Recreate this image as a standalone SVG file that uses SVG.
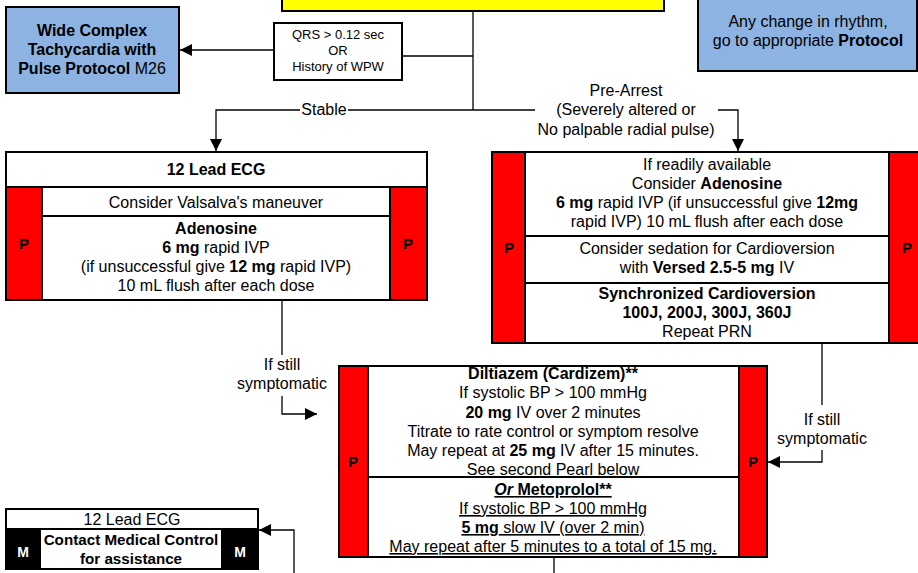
<svg xmlns="http://www.w3.org/2000/svg" width="918" height="573" viewBox="0 0 918 573">
  <style>
    text { font-family: "Liberation Sans", Arial, sans-serif; font-size: 16px; fill: #000; text-anchor: middle; }
    .b { font-weight: bold; }
    .sm { font-size: 13px; }
    .mc { font-size: 15.2px; }
    .u { text-decoration: underline; }
    .box { stroke: #000; stroke-width: 2; }
    .white { fill: #fff; }
    .blue { fill: #8DB3E2; }
    .yellow { fill: #FFFF00; }
    .red { fill: #FF0000; }
    .dark { fill: #000; }
    .div { stroke: #000; stroke-width: 2; fill: none; }
    .wire { stroke: #000; stroke-width: 1.3; fill: none; }
    .mtext { fill: #fff; font-weight: bold; font-size: 14px; }
    .ptext { font-weight: bold; font-size: 15px; }
  </style>
  <defs>
    <marker id="arrow" markerUnits="userSpaceOnUse" markerWidth="12" markerHeight="12" viewBox="0 0 12 12" refX="12" refY="6" orient="auto">
      <path d="M0,0 L12,6 L0,12 z" fill="#000"/>
    </marker>
  </defs>

  <rect width="918" height="573" fill="#fff"/>

  <!-- connectors -->
  <g id="connectors">
    <path class="wire" d="M473,11 V110"/>
    <path class="wire" d="M402,56 H473"/>
    <path class="wire" d="M274,50 H180" marker-end="url(#arrow)"/>
    <path class="wire" d="M473,110 H348"/>
    <path class="wire" d="M300,110 H216 V151" marker-end="url(#arrow)"/>
    <path class="wire" d="M473,110 H535"/>
    <path class="wire" d="M718,110 H738 V151" marker-end="url(#arrow)"/>
    <path class="wire" d="M282,300 V355"/>
    <path class="wire" d="M282,396 V414 H317" marker-end="url(#arrow)"/>
    <path class="wire" d="M822,344 V405"/>
    <path class="wire" d="M822,450 V462 H768" marker-end="url(#arrow)"/>
    <path class="wire" d="M554,557 V573"/>
    <path class="wire" d="M294,573 V530 H259" marker-end="url(#arrow)"/>
    <text x="324" y="115">Stable</text>
    <text x="626" y="96">Pre-Arrest</text>
    <text x="626" y="115">(Severely altered or</text>
    <text x="626" y="135">No palpable radial pulse)</text>
    <text x="282" y="370">If still</text>
    <text x="282" y="389">symptomatic</text>
    <text x="822" y="425">If still</text>
    <text x="822" y="444">symptomatic</text>
  </g>

  <!-- top decision box -->
  <g id="top-box">
    <rect class="box yellow" x="282" y="-10" width="382" height="21"/>
  </g>

  <g id="wide-complex">
    <rect class="box blue" x="6" y="7" width="173" height="86"/>
    <text class="b" x="92" y="36">Wide Complex</text>
    <text class="b" x="92" y="55">Tachycardia with</text>
    <text x="92" y="74"><tspan class="b">Pulse Protocol</tspan> M26</text>
  </g>

  <g id="qrs">
    <rect class="box white" x="274" y="23" width="128" height="57"/>
    <text class="sm" x="338" y="39">QRS &gt; 0.12 sec</text>
    <text class="sm" x="338" y="55">OR</text>
    <text class="sm" x="338" y="71">History of WPW</text>
  </g>

  <g id="rhythm-note">
    <rect class="box blue" x="698" y="-5" width="219" height="76"/>
    <text x="808" y="27">Any change in rhythm,</text>
    <text x="808" y="46">go to appropriate <tspan class="b">Protocol</tspan></text>
  </g>

  <!-- stable branch -->
  <g id="stable-box">
    <rect class="box white" x="6" y="152" width="421" height="148"/>
    <path class="div" d="M6,187 H427"/>
    <rect class="box red" x="6" y="187" width="36" height="113"/>
    <rect class="box red" x="390" y="187" width="37" height="113"/>
    <path class="div" d="M42,216 H390"/>
    <text class="b" x="216" y="175">12 Lead ECG</text>
    <text x="216" y="208">Consider Valsalva's maneuver</text>
    <text class="b" x="216" y="234">Adenosine</text>
    <text x="216" y="253"><tspan class="b">6 mg</tspan> rapid IVP</text>
    <text x="216" y="272">(if unsuccessful give <tspan class="b">12 mg</tspan> rapid IVP)</text>
    <text x="216" y="291">10 mL flush after each dose</text>
    <text class="ptext" x="24" y="249">P</text>
    <text class="ptext" x="408" y="249">P</text>
  </g>

  <!-- pre-arrest branch -->
  <g id="prearrest-box">
    <rect class="box white" x="492" y="152" width="397" height="191"/>
    <rect class="box red" x="492" y="152" width="33" height="191"/>
    <rect class="box red" x="889" y="152" width="32" height="191"/>
    <path class="div" d="M525,236 H889 M525,283 H889"/>
    <text x="707" y="170">If readily available</text>
    <text x="707" y="189">Consider <tspan class="b">Adenosine</tspan></text>
    <text x="707" y="208"><tspan class="b">6 mg</tspan> rapid IVP (if unsuccessful give <tspan class="b">12mg</tspan></text>
    <text x="707" y="227">rapid IVP) 10 mL flush after each dose</text>
    <text x="707" y="254">Consider sedation for Cardioversion</text>
    <text x="707" y="273">with <tspan class="b">Versed 2.5-5 mg</tspan> IV</text>
    <text class="b" x="707" y="299">Synchronized Cardioversion</text>
    <text class="b" x="707" y="318">100J, 200J, 300J, 360J</text>
    <text x="707" y="337">Repeat PRN</text>
    <text class="ptext" x="509" y="253">P</text>
    <text class="ptext" x="907" y="253">P</text>
  </g>

  <!-- rate control -->
  <g id="rate-control">
    <rect class="box white" x="339" y="366" width="428" height="191"/>
    <rect class="box red" x="339" y="366" width="29" height="191"/>
    <rect class="box red" x="739" y="366" width="28" height="191"/>
    <path class="div" d="M368,477 H739"/>
    <text class="b" x="553" y="379">Diltiazem (Cardizem)**</text>
    <text x="553" y="398">If systolic BP &gt; 100 mmHg</text>
    <text x="553" y="418"><tspan class="b">20 mg</tspan> IV over 2 minutes</text>
    <text x="553" y="437">Titrate to rate control or symptom resolve</text>
    <text x="553" y="456">May repeat at <tspan class="b">25 mg</tspan> IV after 15 minutes.</text>
    <text x="553" y="475">See second Pearl below</text>
    <text class="b u" x="553" y="495"><tspan font-style="italic">Or</tspan> Metoprolol**</text>
    <text class="u" x="553" y="514">If systolic BP &gt; 100 mmHg</text>
    <text class="u" x="553" y="533"><tspan class="b">5 mg</tspan> slow IV (over 2 min)</text>
    <text class="u" x="553" y="552">May repeat after 5 minutes to a total of 15 mg.</text>
    <text class="ptext" x="353" y="467">P</text>
    <text class="ptext" x="753" y="467">P</text>
  </g>

  <!-- medical control -->
  <g id="medical-control">
    <rect class="box white" x="6" y="509" width="252" height="60"/>
    <path class="div" d="M6,529 H258"/>
    <rect class="box dark" x="6" y="529" width="34" height="40"/>
    <rect class="box dark" x="222" y="529" width="36" height="40"/>
    <text x="132" y="525">12 Lead ECG</text>
    <text class="b mc" x="131" y="545">Contact Medical Control</text>
    <text class="b mc" x="131" y="564">for assistance</text>
    <text class="mtext" x="23" y="557">M</text>
    <text class="mtext" x="240" y="557">M</text>
  </g>
</svg>
